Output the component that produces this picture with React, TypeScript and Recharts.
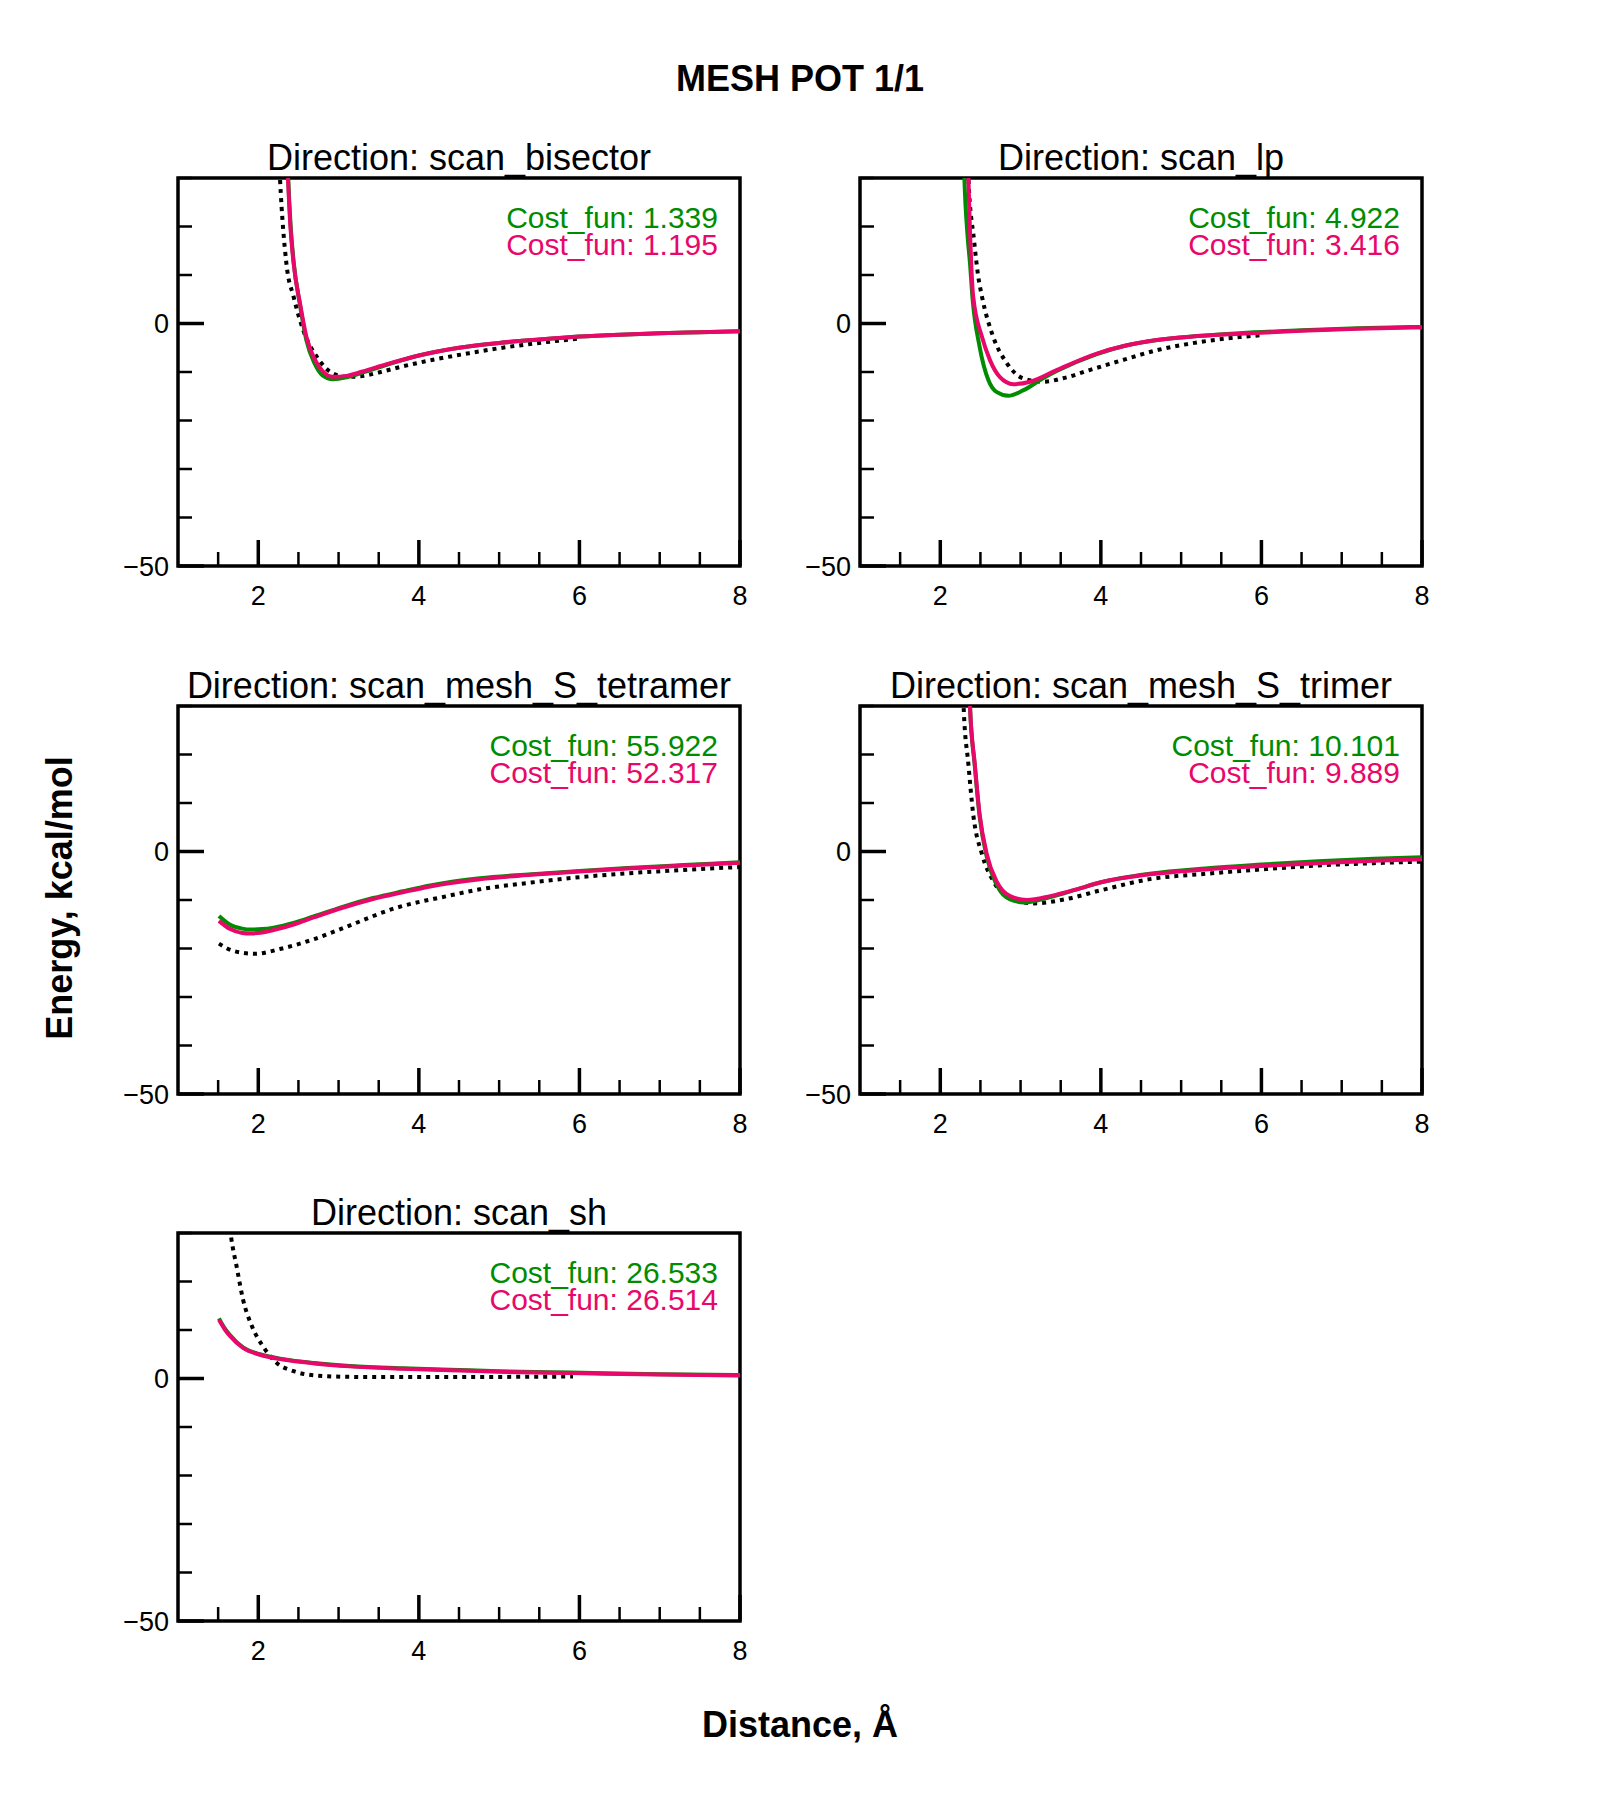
import React from 'react';
import { LineChart, Line, XAxis, YAxis, ReferenceArea } from 'recharts';

type Pt = [number, number];

// ---------- data (distance Å, energy kcal/mol) ----------
// scan_bisector
const bisectorRef: Pt[] = [
  [2.22, 50], [2.27, 30], [2.35, 12.4], [2.44, 5.5], [2.56, -1.4], [2.73, -6.9], [2.93, -10.3],
  [3.1, -11.0], [3.26, -10.9], [3.5, -10.1], [3.76, -9.0], [4.2, -7.4], [4.6, -6.2], [5.0, -5.1],
  [5.5, -4.0], [6.0, -3.1],
];
const bisectorGreen: Pt[] = [
  [2.33, 52], [2.37, 31], [2.4, 21], [2.44, 12.8], [2.52, 3.8], [2.6, -3.5], [2.7, -8.2], [2.8, -10.7],
  [2.93, -11.5], [3.1, -11.1], [3.3, -10.1], [3.6, -8.5], [4.0, -6.6], [4.5, -5.0], [5.0, -4.0],
  [5.5, -3.3], [6.0, -2.7], [6.5, -2.3], [7.0, -2.0], [7.5, -1.8], [8.0, -1.6],
];
const bisectorPink: Pt[] = [
  [2.33, 50], [2.37, 30], [2.4, 20], [2.44, 12.4], [2.52, 4.1], [2.6, -2.8], [2.7, -7.3], [2.8, -9.8],
  [2.93, -11.0], [3.1, -10.8], [3.3, -9.9], [3.6, -8.4], [4.0, -6.6], [4.5, -5.0], [5.0, -4.0],
  [5.5, -3.3], [6.0, -2.7], [6.5, -2.3], [7.0, -2.0], [7.5, -1.8], [8.0, -1.6],
];

// scan_lp
const lpRef: Pt[] = [
  [2.31, 50], [2.35, 30], [2.42, 17.2], [2.47, 10], [2.52, 5.5], [2.66, -2.8], [2.83, -8.2],
  [3.03, -11.3], [3.28, -12.0], [3.55, -11.2], [3.86, -9.6], [4.3, -7.4], [4.7, -5.5], [5.2, -3.9],
  [5.73, -2.8], [6.0, -2.4],
];
const lpGreen: Pt[] = [
  [2.27, 50], [2.3, 30], [2.34, 18], [2.37, 12.4], [2.4, 5.5], [2.49, -4.8], [2.6, -11.7], [2.7, -14.1],
  [2.85, -14.9], [3.03, -13.8], [3.28, -11.3], [3.45, -9.8], [3.95, -6.3], [4.3, -4.6], [4.7, -3.4],
  [5.2, -2.6], [5.73, -2.0], [6.5, -1.4], [7.2, -1.0], [8.0, -0.7],
];
const lpPink: Pt[] = [
  [2.32, 50], [2.35, 30], [2.37, 19], [2.41, 5.5], [2.52, -2.8], [2.62, -7.6], [2.74, -11.0],
  [2.91, -12.5], [3.12, -12.0], [3.45, -9.6], [3.95, -6.2], [4.3, -4.6], [4.7, -3.4], [5.2, -2.6],
  [5.73, -2.1], [6.5, -1.5], [7.2, -1.1], [8.0, -0.8],
];

// scan_mesh_S_tetramer
const tetramerRef: Pt[] = [
  [1.51, -19.0], [1.69, -20.5], [1.96, -21.1], [2.27, -20.1], [2.69, -18.1], [3.1, -15.5],
  [3.72, -11.6], [4.35, -9.2], [4.76, -7.8], [5.4, -6.4], [6.0, -5.3], [6.6, -4.5], [7.3, -3.8],
  [8.0, -3.2],
];
const tetramerGreen: Pt[] = [
  [1.51, -13.3], [1.65, -15.1], [1.8, -15.9], [1.9, -16.1], [2.05, -16.0], [2.19, -15.7],
  [2.45, -14.7], [2.69, -13.4], [3.05, -11.4], [3.43, -9.6], [3.8, -8.2], [4.14, -7.0], [4.76, -5.5],
  [5.4, -4.7], [6.0, -4.0], [6.6, -3.4], [7.3, -2.8], [8.0, -2.2],
];
const tetramerPink: Pt[] = [
  [1.51, -14.3], [1.65, -16.0], [1.8, -16.8], [1.9, -16.9], [2.05, -16.7], [2.19, -16.2],
  [2.45, -15.0], [2.69, -13.6], [3.05, -11.6], [3.43, -9.8], [3.8, -8.4], [4.14, -7.2], [4.76, -5.7],
  [5.4, -4.8], [6.0, -4.1], [6.6, -3.5], [7.3, -2.9], [8.0, -2.3],
];

// scan_mesh_S_trimer
const trimerRef: Pt[] = [
  [2.26, 50], [2.29, 30], [2.35, 18], [2.41, 7.7], [2.52, -0.6], [2.66, -6.1], [2.83, -9.2],
  [3.16, -10.7], [3.57, -9.8], [4.0, -8.0], [4.61, -5.7], [5.3, -4.6], [6.0, -3.7], [6.7, -2.9],
  [7.4, -2.4], [8.0, -2.1],
];
const trimerGreen: Pt[] = [
  [2.34, 50], [2.37, 30], [2.43, 17.6], [2.49, 7.2], [2.58, -1.2], [2.7, -6.8], [2.87, -9.9],
  [3.05, -10.5], [3.37, -9.4], [3.7, -7.8], [3.99, -6.4], [4.61, -4.6], [5.3, -3.5], [6.0, -2.7],
  [6.7, -2.0], [7.4, -1.5], [8.0, -1.2],
];
const trimerPink: Pt[] = [
  [2.34, 50], [2.37, 30], [2.43, 18.0], [2.49, 7.7], [2.58, -0.6], [2.7, -6.1], [2.87, -9.2],
  [3.08, -10.0], [3.37, -9.2], [3.7, -7.8], [3.99, -6.4], [4.61, -4.7], [5.3, -3.7], [6.0, -3.0],
  [6.7, -2.4], [7.4, -1.9], [8.0, -1.6],
];

// scan_sh
const shRef: Pt[] = [
  [1.58, 42], [1.66, 29.3], [1.73, 23.1], [1.81, 16.3], [1.92, 10.8], [2.06, 6.6], [2.23, 3.2],
  [2.44, 1.5], [2.73, 0.6], [3.1, 0.35], [3.56, 0.3], [4.5, 0.3], [5.3, 0.35], [5.92, 0.4],
];
const shGreen: Pt[] = [
  [1.51, 12.4], [1.58, 10.4], [1.65, 8.9], [1.81, 6.4], [2.02, 5.0], [2.31, 4.0], [2.7, 3.2],
  [3.14, 2.6], [3.8, 2.1], [4.39, 1.8], [5.0, 1.5], [5.63, 1.3], [6.3, 1.1], [7.0, 0.9], [8.0, 0.7],
];
const shPink: Pt[] = [
  [1.51, 12.1], [1.58, 10.2], [1.65, 8.7], [1.81, 6.3], [2.02, 4.9], [2.31, 3.9], [2.7, 3.1],
  [3.14, 2.5], [3.8, 2.0], [4.39, 1.7], [5.0, 1.4], [5.63, 1.2], [6.3, 1.0], [7.0, 0.8], [8.0, 0.6],
];

const panelTitles = [
  'Direction: scan_bisector',
  'Direction: scan_lp',
  'Direction: scan_mesh_S_tetramer',
  'Direction: scan_mesh_S_trimer',
  'Direction: scan_sh',
];
const costGreen = ['1.339', '4.922', '55.922', '10.101', '26.533'];
const costPink = ['1.195', '3.416', '52.317', '9.889', '26.514'];

const xDomain = [1, 8];
const yDomain = [-50, 30];
const xTicks = [1.5, 2, 2.5, 3, 3.5, 4, 4.5, 5, 5.5, 6, 6.5, 7, 7.5, 8];
const xMajor = [2, 4, 6, 8];
const yTicks = [-50, -40, -30, -20, -10, 0, 10, 20, 30];
const yMajor = [-50, 0];

const mainTitle = 'MESH POT 1/1';
const xLabel = 'Distance, Å';
const yLabel = 'Energy, kcal/mol';

// ---------- style ----------
const FONT = '"Liberation Sans", Arial, Helvetica, sans-serif';
const GREEN = '#008c00';
const PINK = '#e8086a';

const PLOT_W = 562;
const PLOT_H = 388;
const M_LEFT = 40;
const Y_W = 60;
const M_TOP = 20;
const M_RIGHT = 30;
const M_BOTTOM = 30;
const X_H = 40;
const CW = M_LEFT + Y_W + PLOT_W + M_RIGHT;
const CH = M_TOP + PLOT_H + X_H + M_BOTTOM;

const colLeft = [178, 860];
const rowTop = [178, 705.5, 1233];

const TICK_FONT = 27;

const toData = (pts: Pt[]) => pts.map(([x, y]) => ({ x, y }));

const XTick = (props: any) => {
  const { x, y, payload } = props;
  const v = payload.value;
  const major = xMajor.includes(v);
  return (
    <g>
      <line x1={x} y1={y} x2={x} y2={y - (major ? 26 : 14)} stroke="#000" strokeWidth={major ? 3.5 : 2.5} />
      {major && (
        <text x={x} y={y + 38.5} textAnchor="middle" fontSize={TICK_FONT} fontFamily={FONT} fill="#000">
          {String(v)}
        </text>
      )}
    </g>
  );
};

const YTick = (props: any) => {
  const { x, y, payload } = props;
  const v = payload.value;
  const major = yMajor.includes(v);
  return (
    <g>
      <line x1={x} y1={y} x2={x + (major ? 26 : 14)} y2={y} stroke="#000" strokeWidth={major ? 3.5 : 2.5} />
      {major && (
        <text x={x - 9} y={y + 9.6} textAnchor="end" fontSize={TICK_FONT} fontFamily={FONT} fill="#000">
          {v < 0 ? '\u2212' + String(Math.abs(v)) : String(v)}
        </text>
      )}
    </g>
  );
};

type PanelProps = { refPts: Pt[]; green: Pt[]; pink: Pt[] };

const Panel = ({ refPts, green, pink }: PanelProps) => (
  <LineChart
    width={CW}
    height={CH}
    margin={{ top: M_TOP, right: M_RIGHT, bottom: M_BOTTOM, left: M_LEFT }}
  >
    <XAxis
      dataKey="x"
      type="number"
      domain={xDomain}
      ticks={xTicks}
      interval={0}
      allowDataOverflow
      axisLine={false}
      tickLine={false}
      tickSize={0}
      tickMargin={0}
      height={X_H}
      tick={<XTick />}
    />
    <YAxis
      dataKey="y"
      type="number"
      domain={yDomain}
      ticks={yTicks}
      interval={0}
      allowDataOverflow
      axisLine={false}
      tickLine={false}
      tickSize={0}
      tickMargin={0}
      width={Y_W}
      tick={<YTick />}
    />
    <Line
      data={toData(refPts)}
      dataKey="y"
      type="monotone"
      stroke="#000"
      strokeWidth={4}
      strokeDasharray="4 5"
      dot={false}
      activeDot={false}
      isAnimationActive={false}
    />
    <Line
      data={toData(green)}
      dataKey="y"
      type="monotone"
      stroke={GREEN}
      strokeWidth={4}
      dot={false}
      activeDot={false}
      isAnimationActive={false}
    />
    <Line
      data={toData(pink)}
      dataKey="y"
      type="monotone"
      stroke={PINK}
      strokeWidth={4}
      dot={false}
      activeDot={false}
      isAnimationActive={false}
    />
    <ReferenceArea
      x1={xDomain[0]}
      x2={xDomain[1]}
      y1={yDomain[0]}
      y2={yDomain[1]}
      ifOverflow="visible"
      fill="none"
      fillOpacity={0}
      stroke="#000"
      strokeWidth={3.5}
    />
  </LineChart>
);

const panels: PanelProps[] = [
  { refPts: bisectorRef, green: bisectorGreen, pink: bisectorPink },
  { refPts: lpRef, green: lpGreen, pink: lpPink },
  { refPts: tetramerRef, green: tetramerGreen, pink: tetramerPink },
  { refPts: trimerRef, green: trimerGreen, pink: trimerPink },
  { refPts: shRef, green: shGreen, pink: shPink },
];

export default function App() {
  return (
    <div style={{ position: 'absolute', left: 0, top: 0, width: 1600, height: 1800, background: '#fff' }}>
      {panels.map((p, i) => {
        const pl = colLeft[i % 2];
        const pt = rowTop[Math.floor(i / 2)];
        return (
          <div key={i} style={{ position: 'absolute', left: pl - M_LEFT - Y_W, top: pt - M_TOP }}>
            <Panel {...p} />
          </div>
        );
      })}
      <svg
        width={1600}
        height={1800}
        style={{ position: 'absolute', left: 0, top: 0, pointerEvents: 'none' }}
      >
        <text x={800} y={91} textAnchor="middle" fontSize={36} fontWeight="bold" fontFamily={FONT} fill="#000">
          {mainTitle}
        </text>
        {panels.map((_, i) => {
          const pl = colLeft[i % 2];
          const pt = rowTop[Math.floor(i / 2)];
          return (
            <g key={i}>
              <text x={pl + PLOT_W / 2} y={pt - 8} textAnchor="middle" fontSize={36} fontFamily={FONT} fill="#000">
                {panelTitles[i]}
              </text>
              <text x={pl + 540} y={pt + 50} textAnchor="end" fontSize={30} fontFamily={FONT} fill={GREEN}>
                {'Cost_fun: ' + costGreen[i]}
              </text>
              <text x={pl + 540} y={pt + 77} textAnchor="end" fontSize={30} fontFamily={FONT} fill={PINK}>
                {'Cost_fun: ' + costPink[i]}
              </text>
            </g>
          );
        })}
        <text x={800} y={1737} textAnchor="middle" fontSize={36} fontWeight="bold" fontFamily={FONT} fill="#000">
          {xLabel}
        </text>
        <text
          transform="translate(72, 898) rotate(-90)"
          textAnchor="middle"
          fontSize={36}
          fontWeight="bold"
          fontFamily={FONT}
          fill="#000"
        >
          {yLabel}
        </text>
      </svg>
    </div>
  );
}
